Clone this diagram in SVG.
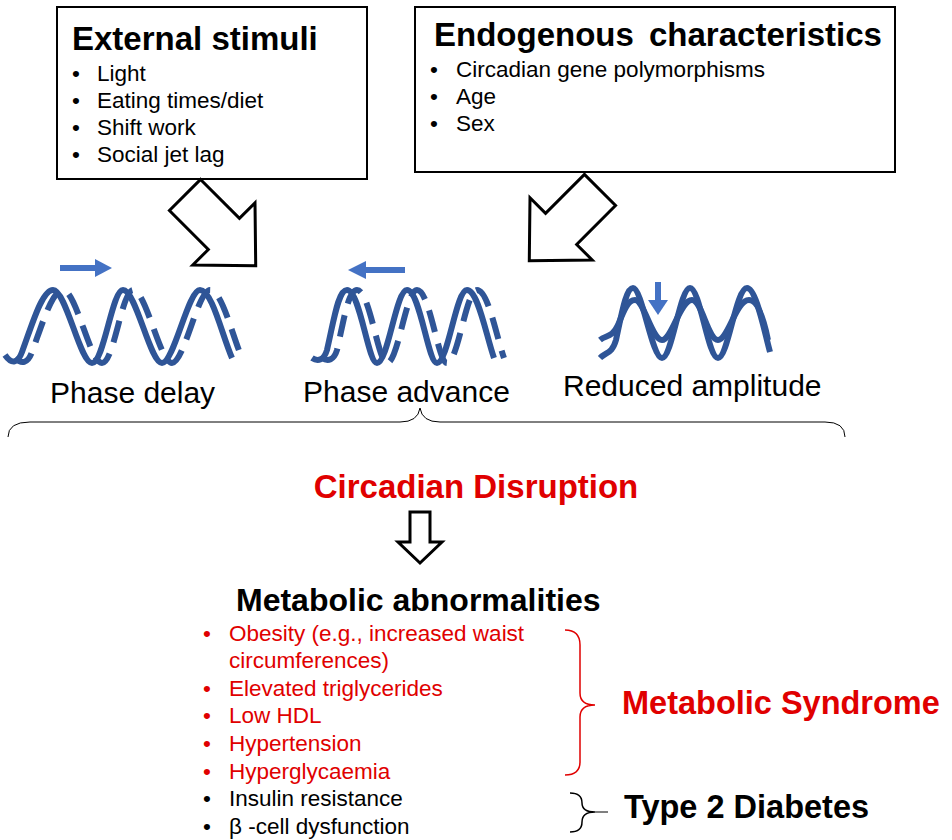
<svg xmlns="http://www.w3.org/2000/svg" width="952" height="840" viewBox="0 0 952 840">
<style>
text{font-family:"Liberation Sans",Arial,sans-serif}
.box{fill:#fff;stroke:#000;stroke-width:2}
.h{font-size:33px;font-weight:bold}
.b{font-size:22.5px}
.w{fill:none;stroke:#2f5597;stroke-width:6}
.d{fill:none;stroke:#2f5597;stroke-width:6;stroke-dasharray:22 12}
.lbl{font-size:30px}
.hol{fill:#fff;stroke:#000;stroke-width:3;stroke-linejoin:miter}
.red{fill:#e00000}
.m{font-size:22.5px}
</style>
<g id="external">
<rect class="box" x="57" y="7" width="310" height="172"/>
<text class="h" x="72" y="50" font-size="34">External stimuli</text>
<text class="b" x="72" y="81">•<tspan x="97">Light</tspan></text>
<text class="b" x="72" y="108">•<tspan x="97">Eating times/diet</tspan></text>
<text class="b" x="72" y="135">•<tspan x="97">Shift work</tspan></text>
<text class="b" x="72" y="162">•<tspan x="97">Social jet lag</tspan></text>
</g>
<g id="endogenous">
<rect class="box" x="415" y="7" width="480" height="165"/>
<text class="h" x="434" y="46" word-spacing="6">Endogenous characteristics</text>
<text class="b" x="430" y="77">•<tspan x="456">Circadian gene polymorphisms</tspan></text>
<text class="b" x="430" y="104">•<tspan x="456">Age</tspan></text>
<text class="b" x="430" y="131">•<tspan x="456">Sex</tspan></text>
</g>
<g id="connectors">
<polygon class="hol" points="0,-22 55,-22 55,-44 100,0 55,44 55,22 0,22" transform="translate(185,195) rotate(45)"/>
<polygon class="hol" points="0,-22 55,-22 55,-44 100,0 55,44 55,22 0,22" transform="translate(600,190) rotate(135)"/>
<path d="M8,437 Q8,422 30,422 L400,422 Q418,422 420,408 Q422,422 440,422 L825,422 Q845,422 845,437" fill="none" stroke="#000" stroke-width="1"/>
<polygon class="hol" points="410,512 430,512 430,542 442,542 420,563 398,542 410,542"/>
<path d="M565,630 Q580,630 580,645 L580,693 Q580,705 595,705 Q580,705 580,717 L580,762 Q580,775 565,775" fill="none" stroke="#e00000" stroke-width="1.5"/>
<path d="M570,793 Q582,793 582,803 Q582,812 595,812 Q582,812 582,822 Q582,832 570,832" fill="none" stroke="#000" stroke-width="1.5"/>
<path d="M595,812 L608,812" fill="none" stroke="#000" stroke-width="1"/>
</g>
<g id="phase-delay">
<path d="M60,268 L95,268" stroke="#4472c4" stroke-width="6"/>
<polygon points="95,259 112,268 95,277" fill="#4472c4"/>
<path class="w" d="M5,355 C12,365 18,363 22,352 C32,325 42,290 53,290 C66,290 80,363 92,363 C104,363 112,290 123,290 C136,290 150,363 162,363 C174,363 188,290 200,290 C212,290 222,335 232,358"/>
<path class="d" d="M15,358 C22,365 28,363 32,352 C42,325 52,290 63,290 C76,290 90,363 102,363 C114,363 122,290 133,290 C146,290 160,363 172,363 C184,363 198,290 210,290 C222,290 232,335 242,358"/>
<text class="lbl" x="50" y="403" font-size="31">Phase delay</text>
</g>
<g id="phase-advance">
<path d="M366,270 L405,270" stroke="#4472c4" stroke-width="6"/>
<polygon points="366,261 348,270 366,279" fill="#4472c4"/>
<path class="w" d="M312,358 C318,362 324,360 327,350 C334,320 338,290 347,290 C360,290 368,363 377,363 C388,363 396,290 407,290 C420,290 428,363 437,363 C448,363 456,290 467,290 C478,290 486,335 494,358"/>
<path class="d" d="M322,358 C328,362 334,360 337,350 C344,320 348,290 357,290 C370,290 378,363 387,363 C398,363 406,290 417,290 C430,290 438,363 447,363 C458,363 466,290 477,290 C488,290 496,335 504,358"/>
<text class="lbl" x="303" y="402">Phase advance</text>
</g>
<g id="reduced-amplitude">
<path d="M658,282 L658,302" stroke="#4472c4" stroke-width="6"/>
<polygon points="648,300 658,315 668,300" fill="#4472c4"/>
<path class="w" d="M600,358 C606,352 612,354 616,340 C622,312 626,288 633,288 C642,288 652,358 662,358 C672,358 680,288 690,288 C700,288 708,358 718,358 C728,358 736,288 747,288 C756,288 764,330 770,352"/>
<path class="w" d="M600,340 C606,335 612,338 618,325 C624,310 628,300 635,300 C644,300 652,340 662,340 C672,340 680,300 692,300 C702,300 708,340 718,340 C728,340 736,300 749,300 C758,300 764,320 768,340" stroke-width="5"/>
<text class="lbl" x="563" y="396">Reduced amplitude</text>
</g>
<g id="circadian-disruption">
<text x="476" y="498" text-anchor="middle" font-size="33" font-weight="bold" class="red">Circadian Disruption</text>
</g>
<g id="metabolic">
<text x="236" y="611" font-size="32" font-weight="bold">Metabolic abnormalities</text>
<text class="m red" x="203" y="641">•<tspan x="229">Obesity (e.g., increased waist</tspan></text>
<text class="m red" x="229" y="668">circumferences)</text>
<text class="m red" x="203" y="696">•<tspan x="229">Elevated triglycerides</tspan></text>
<text class="m red" x="203" y="723">•<tspan x="229">Low HDL</tspan></text>
<text class="m red" x="203" y="751">•<tspan x="229">Hypertension</tspan></text>
<text class="m red" x="203" y="779">•<tspan x="229">Hyperglycaemia</tspan></text>
<text class="m" x="203" y="806">•<tspan x="229">Insulin resistance</tspan></text>
<text class="m" x="203" y="834">•<tspan x="229">β -cell dysfunction</tspan></text>
</g>
<g id="metabolic-syndrome">
<text x="622" y="714" font-size="32.5" font-weight="bold" class="red">Metabolic Syndrome</text>
</g>
<g id="type2">
<text x="624" y="818" font-size="32.5" font-weight="bold">Type 2 Diabetes</text>
</g>
</svg>
